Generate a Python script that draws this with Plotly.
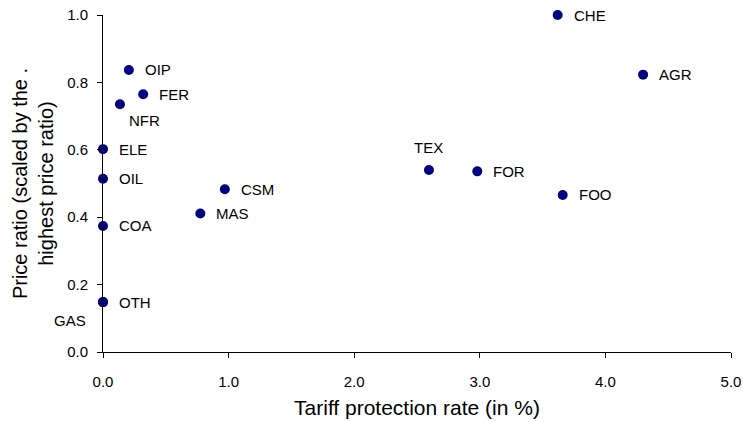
import plotly.graph_objects as go

sectors = ["CHE", "AGR", "OIP", "FER", "NFR", "ELE", "OIL", "TEX", "FOR", "FOO",
           "CSM", "MAS", "COA", "OTH", "GAS"]
tariff = [3.62, 4.30, 0.206, 0.32, 0.135, 0.0, 0.0, 2.595, 2.98, 3.66,
          0.97, 0.775, 0.0, 0.0, 0.0]
price_ratio = [1.0, 0.823, 0.837, 0.765, 0.735, 0.602, 0.514, 0.540, 0.536, 0.466,
               0.483, 0.411, 0.374, 0.148, 0.148]

x_ticks = [0, 1, 2, 3, 4, 5]
y_ticks = [0.0, 0.2, 0.4, 0.6, 0.8, 1.0]

# label placement style: (xanchor, yanchor, xshift, yshift)
placement = {
    "NFR": ("left", "middle", 7, -16),
    "TEX": ("center", "middle", 0, 23),
    "GAS": ("right", "middle", -15, -18),
}
default_place = ("left", "middle", 14, 0)

FONT = "Liberation Sans, Arial, sans-serif"

fig = go.Figure()
fig.add_trace(go.Scatter(
    x=tariff, y=price_ratio, mode="markers",
    marker=dict(color="#000080", size=10),
    hoverinfo="skip", showlegend=False, cliponaxis=False,
))

annotations = []
for name, xv, yv in zip(sectors, tariff, price_ratio):
    xa, ya, xs, ys = placement.get(name, default_place)
    annotations.append(dict(
        x=xv, y=yv, text=name, showarrow=False, xanchor=xa, yanchor=ya,
        xshift=xs, yshift=ys, font=dict(family=FONT, size=15, color="black"),
    ))

fig.update_layout(
    width=743, height=422,
    margin=dict(l=103, r=12, t=15, b=70),
    paper_bgcolor="white", plot_bgcolor="white",
    font=dict(family=FONT, color="black"),
    annotations=annotations,
    xaxis=dict(
        range=[0, 5], tickvals=x_ticks, ticktext=[f"{v:.1f}" for v in x_ticks],
        showgrid=False, zeroline=False, showline=True, linecolor="black", linewidth=1,
        ticks="outside", ticklen=5, tickcolor="black", tickfont=dict(size=15),
        ticklabelstandoff=11, ticklabeloverflow="allow", automargin=False,
        title=dict(text="Tariff protection rate (in %)", font=dict(size=21), standoff=11),
    ),
    yaxis=dict(
        range=[0, 1], tickvals=y_ticks, ticktext=[f"{v:.1f}" for v in y_ticks],
        showgrid=False, zeroline=False, showline=True, linecolor="black", linewidth=1,
        ticks="outside", ticklen=5, tickcolor="black", tickfont=dict(size=15),
        ticklabelstandoff=6, ticklabeloverflow="allow", automargin=False,
        title=dict(text="Price ratio (scaled by the .<br>highest price ratio)",
                   font=dict(size=20), standoff=8),
    ),
)

# remove the default page margin so the figure sits at the window's corner
fig.write_html("out.html", config={"displayModeBar": False},
               post_script="document.body.style.margin='0';")
